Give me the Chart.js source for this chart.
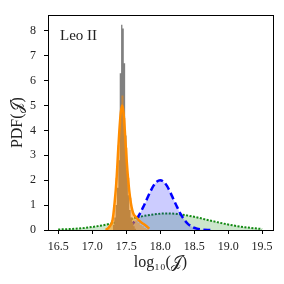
<!DOCTYPE html>
<html>
<head>
<meta charset="utf-8">
<script src="https://cdn.jsdelivr.net/npm/chart.js@4"></script>
<style>
  html, body { margin: 0; padding: 0; background: #fff; }
  #wrap { width: 284px; height: 284px; }
</style>
</head>
<body>
<div id="wrap"><canvas id="pdf-chart"></canvas></div>
<script>
// --- données ---
const xTicks = [16.5, 17.0, 17.5, 18.0, 18.5, 19.0, 19.5];
const yTicks = [0, 1, 2, 3, 4, 5, 6, 7, 8];

// courbe verte (pointillés)
const greenX = [16.5, 16.75, 17.0, 17.25, 17.5, 17.75, 18.0, 18.1, 18.25, 18.5, 18.75, 19.0, 19.25, 19.5];
const greenY = [0.02, 0.05, 0.12, 0.24, 0.40, 0.56, 0.655, 0.665, 0.645, 0.53, 0.37, 0.22, 0.11, 0.04];

// courbe bleue (tirets)
const blueX = [17.4, 17.5, 17.55, 17.6, 17.65, 17.7, 17.75, 17.8, 17.85, 17.9, 17.95, 18.0, 18.05, 18.1, 18.15, 18.2, 18.25, 18.3, 18.35, 18.4, 18.45, 18.5, 18.6, 18.75];
const blueY = [0.02, 0.09, 0.16, 0.27, 0.43, 0.65, 0.92, 1.21, 1.51, 1.77, 1.94, 2.0, 1.94, 1.77, 1.51, 1.21, 0.92, 0.65, 0.43, 0.27, 0.16, 0.09, 0.02, 0.0];

// courbe orange (trait plein)
const orangeX = [17.2, 17.25, 17.3, 17.33, 17.36, 17.38, 17.4, 17.42, 17.44, 17.46, 17.48, 17.5, 17.53, 17.56, 17.6, 17.65, 17.7, 17.75, 17.8, 17.84];
const orangeY = [0.0, 0.12, 0.4, 1.1, 2.1, 3.1, 4.0, 4.7, 5.0, 4.75, 4.0, 3.1, 2.0, 1.25, 0.7, 0.5, 0.35, 0.25, 0.15, 0.05];

// histogramme gris
const grayEdges = [17.305, 17.325, 17.345, 17.365, 17.385, 17.405, 17.425, 17.445, 17.465, 17.485, 17.505, 17.525, 17.545, 17.565, 17.585, 17.605, 17.625, 17.645];
const grayCounts = [0.2, 0.5, 1.0, 1.7, 2.8, 6.3, 8.25, 8.1, 6.7, 3.8, 2.4, 1.4, 0.8, 0.5, 0.3, 0.15, 0.05];

// histogramme orange
const orangeEdges = [17.22, 17.25, 17.28, 17.31, 17.34, 17.37, 17.40, 17.43, 17.46, 17.49, 17.52, 17.55, 17.58, 17.61, 17.64, 17.67, 17.70, 17.73, 17.76, 17.79, 17.82];
const orangeCounts = [0.05, 0.15, 0.4, 1.0, 2.1, 3.4, 4.4, 5.4, 4.5, 3.3, 2.1, 1.3, 0.75, 0.5, 0.38, 0.28, 0.2, 0.15, 0.08, 0.04];

const serif = "'Liberation Serif', 'DejaVu Serif', serif";

function toPoints(xs, ys) {
    return xs.map((x, i) => ({ x: x, y: ys[i] }));
}

function histPoints(edges, counts) {
    const pts = counts.map((c, i) => ({ x: edges[i], y: c }));
    pts.push({ x: edges[edges.length - 1], y: 0 });
    return pts;
}

// cadre + étiquette "Leo II"
const framePlugin = {
    id: 'frame',
    afterDraw(chart) {
        const { ctx, chartArea: a } = chart;
        ctx.save();
        ctx.strokeStyle = '#000';
        ctx.lineWidth = 1;
        ctx.strokeRect(Math.round(a.left) + 0.5, Math.round(a.top) + 0.5,
                       Math.round(a.right - a.left), Math.round(a.bottom - a.top));
        ctx.fillStyle = '#222';
        ctx.font = '15px ' + serif;
        ctx.textBaseline = 'middle';
        ctx.fillText('Leo II', a.left + 12, a.top + 21);
        ctx.restore();
    }
};

new Chart(document.getElementById('pdf-chart'), {
    type: 'line',
    data: {
        datasets: [
            {
                label: 'orange',
                data: toPoints(orangeX, orangeY),
                borderColor: '#ff8c00',
                borderWidth: 2.5,
                fill: false,
                cubicInterpolationMode: 'monotone',
                order: 0
            },
            {
                label: 'orange hist',
                data: histPoints(orangeEdges, orangeCounts),
                stepped: true,
                borderWidth: 0,
                borderColor: 'rgba(0,0,0,0)',
                backgroundColor: 'rgba(255, 140, 0, 0.5)',
                fill: 'origin',
                order: 1
            },
            {
                label: 'gray hist',
                data: histPoints(grayEdges, grayCounts),
                stepped: true,
                borderWidth: 0,
                borderColor: 'rgba(0,0,0,0)',
                backgroundColor: 'rgb(128, 128, 128)',
                fill: 'origin',
                order: 2
            },
            {
                label: 'blue',
                data: toPoints(blueX, blueY),
                borderColor: '#0000ff',
                borderWidth: 2.5,
                borderDash: [7, 3.5],
                backgroundColor: 'rgba(0, 0, 255, 0.2)',
                fill: 'origin',
                cubicInterpolationMode: 'monotone',
                order: 3
            },
            {
                label: 'green',
                data: toPoints(greenX, greenY),
                borderColor: '#138a13',
                borderWidth: 2,
                borderDash: [2, 1.5],
                backgroundColor: 'rgba(0, 128, 0, 0.2)',
                fill: 'origin',
                cubicInterpolationMode: 'monotone',
                order: 4
            }
        ]
    },
    options: {
        responsive: true,
        maintainAspectRatio: false,
        animation: false,
        elements: { point: { radius: 0 } },
        layout: { padding: { left: 0, top: 12, right: 11, bottom: 0 } },
        plugins: {
            legend: { display: false },
            tooltip: { enabled: false }
        },
        scales: {
            x: {
                type: 'linear',
                min: 16.35,
                max: 19.66,
                afterBuildTicks: (scale) => { scale.ticks = xTicks.map(v => ({ value: v })); },
                afterFit: (scale) => { scale.height = 54; },
                ticks: {
                    color: '#222',
                    font: { family: serif, size: 12 },
                    padding: 6,
                    maxRotation: 0,
                    callback: (v) => v.toFixed(1)
                },
                grid: { drawOnChartArea: false, drawTicks: true, tickLength: 4, color: '#000' },
                border: { display: true, color: '#000' },
                title: {
                    display: true,
                    text: 'log₁₀(𝒥)',
                    color: '#222',
                    font: { family: serif, size: 16 },
                    padding: { top: 4, bottom: 12 }
                }
            },
            y: {
                type: 'linear',
                min: 0,
                max: 8.63,
                afterBuildTicks: (scale) => { scale.ticks = yTicks.map(v => ({ value: v })); },
                afterFit: (scale) => { scale.width = 48; },
                ticks: {
                    color: '#222',
                    font: { family: serif, size: 12 },
                    padding: 8,
                    callback: (v) => String(v)
                },
                grid: { drawOnChartArea: false, drawTicks: true, tickLength: 4, color: '#000' },
                border: { display: true, color: '#000' },
                title: {
                    display: true,
                    text: 'PDF(𝒥)',
                    color: '#222',
                    font: { family: serif, size: 16 },
                    padding: { top: 8, bottom: 4 }
                }
            }
        }
    },
    plugins: [framePlugin]
});
</script>
</body>
</html>
